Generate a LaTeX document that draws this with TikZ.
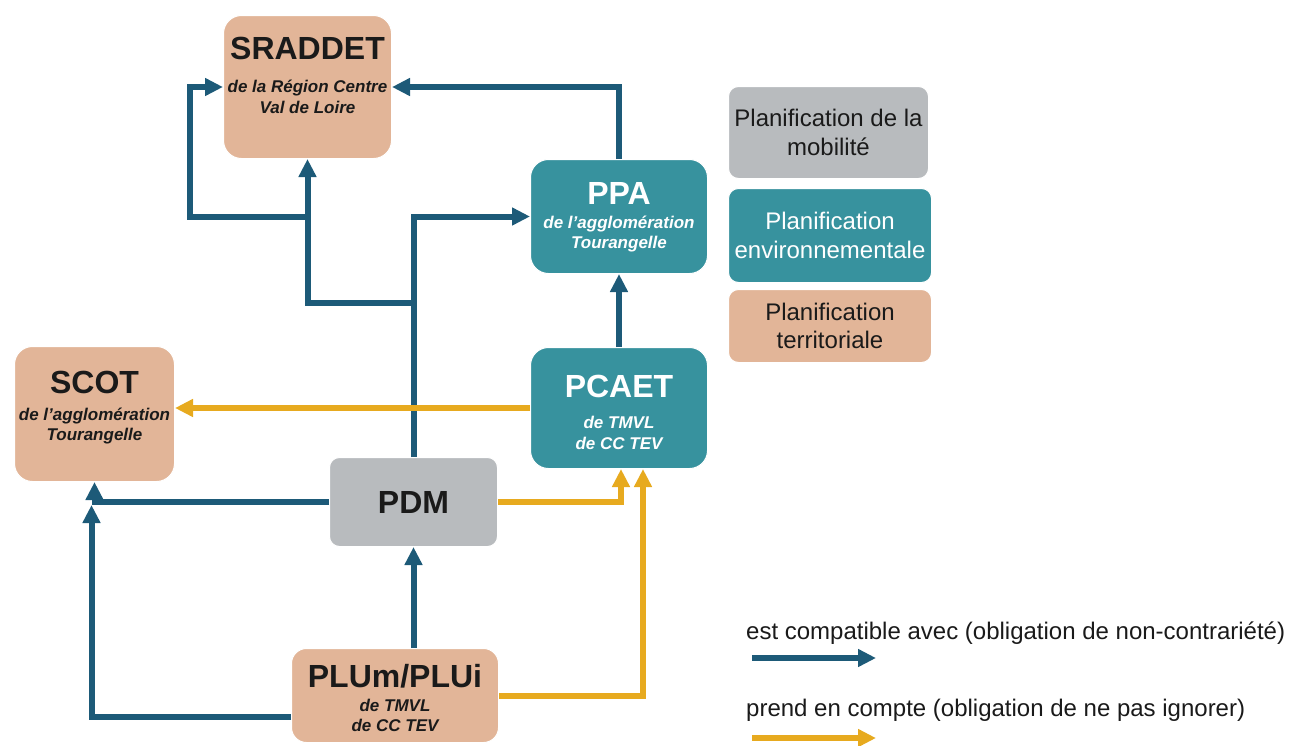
\documentclass[tikz,border=0pt]{standalone}
\usepackage{fontspec}
\setmainfont{Liberation Sans}
\usetikzlibrary{arrows.meta}
\definecolor{terr}{HTML}{E2B598}
\definecolor{envi}{HTML}{37929E}
\definecolor{mobi}{HTML}{B8BBBE}
\definecolor{compat}{HTML}{1D5A78}
\definecolor{prise}{HTML}{E7AA1F}
\definecolor{txt}{HTML}{1A1A1A}
\begin{document}
\begin{tikzpicture}[x=1pt,y=-1pt,
  box/.style={anchor=north west, rounded corners=18pt, draw=white, line width=1pt},
  title/.style={text=txt, font=\fontsize{32}{36}\selectfont\bfseries},
  sub/.style={text=txt, align=center, font=\fontsize{17}{20.5}\selectfont\bfseries\itshape},
  legtext/.style={text=txt, align=center, font=\fontsize{24}{28.5}\selectfont},
  compatline/.style={draw=compat, line width=6pt, -{Triangle[length=18pt,width=17pt]}},
  priseline/.style={draw=prise, line width=6pt, -{Triangle[length=18pt,width=17pt]}}]
\useasboundingbox (0,0) rectangle (1292,745);

\node [box, fill=terr, minimum width=168pt, minimum height=143pt] (sraddet) at (223,15) {};
\node [title] (sraddett) at ([yshift=-33pt]sraddet.north) {SRADDET};
\node [sub] (sraddets) at ([yshift=-82pt]sraddet.north) {de la Région Centre\\Val de Loire};

\node [box, fill=envi, minimum width=177pt, minimum height=114pt] (ppa) at (530,159) {};
\node [title, text=white] (ppat) at ([yshift=-34pt]ppa.north) {PPA};
\node [sub, text=white] (ppas) at ([yshift=-75pt]ppa.north) {de l’agglomération\\Tourangelle};

\node [box, fill=envi, minimum width=177pt, minimum height=121pt] (pcaet) at (530,347) {};
\node [title, text=white] (pcaett) at ([yshift=-39pt]pcaet.north) {PCAET};
\node [sub, text=white] (pcaets) at ([yshift=-86pt]pcaet.north) {de TMVL\\de CC TEV};

\node [box, fill=terr, minimum width=160pt, minimum height=135pt] (scot) at (14,346) {};
\node [title] (scott) at ([yshift=-36pt]scot.north) {SCOT};
\node [sub] (scots) at ([yshift=-80pt]scot.north) {de l’agglomération\\Tourangelle};

\node [box, fill=mobi, rounded corners=10pt, minimum width=168pt, minimum height=89pt, title] (pdm) at (329,457) {PDM};

\node [box, fill=terr, rounded corners=15pt, minimum width=207pt, minimum height=94pt] (plum) at (291,648) {};
\node [title] (plumt) at ([yshift=-28pt]plum.north) {PLUm/PLUi};
\node [sub] (plums) at ([yshift=-67.5pt]plum.north) {de TMVL\\de CC TEV};

% legende des couleurs
\node [box, fill=mobi, rounded corners=10pt, minimum width=200pt, minimum height=92pt, legtext] (mobil) at (728,86) {Planification de la\\mobilité};
\node [box, fill=envi, rounded corners=10pt, minimum width=203pt, minimum height=94pt, legtext, text=white] (envir) at (728,188) {Planification\\environnementale};
\node [box, fill=terr, rounded corners=10pt, minimum width=203pt, minimum height=73pt, legtext] (terri) at (728,289) {Planification\\territoriale};

% compatibilite
\draw [compatline] (ppa.north) |- (sraddet.east);
\draw [compatline] (pdm.north) |- (ppa.west);
\coordinate (pdmknee) at ([yshift=154pt]pdm.north);
\draw [compatline] (pdmknee) -| (sraddet.south);
\coordinate (sraknee) at (sraddet.south |- ppa.west);
\coordinate (sracorner) at ([xshift=-33pt]sraddet.west);
\draw [compatline] (sraknee) -| (sracorner) -- (sraddet.west);
\draw [compatline] (pdm.west) -| (scot.south);
\coordinate (scotmeet) at (scot.south |- pdm.west);
\draw [compatline] ([yshift=-21pt]plum.west) -| ([xshift=-3pt,yshift=-3pt]scotmeet);
\draw [compatline] (pdm.south |- plum.north) -- (pdm.south);
\draw [compatline] (pcaet.north) -- (ppa.south);

% prise en compte
\draw [priseline] (pcaet.west) -- (scot.east |- pcaet.west);
\draw [priseline] (pdm.east) -| ([xshift=2pt]pcaet.south);
\draw [priseline] (plum.east) -| ([xshift=24pt]pcaet.south);

% legende des fleches
\node [legtext, anchor=west, inner sep=0pt] (leg1) at (746,633) {est compatible avec (obligation de non-contrariété)};
\coordinate (leg1a) at ([xshift=6pt,yshift=-25pt]leg1.west);
\coordinate (leg1b) at ([xshift=130pt,yshift=-25pt]leg1.west);
\draw [compatline] (leg1a) -- (leg1b);
\node [legtext, anchor=west, inner sep=0pt] (leg2) at (746,710) {prend en compte (obligation de ne pas ignorer)};
\coordinate (leg2a) at ([xshift=6pt,yshift=-28pt]leg2.west);
\coordinate (leg2b) at ([xshift=130pt,yshift=-28pt]leg2.west);
\draw [priseline] (leg2a) -- (leg2b);
\end{tikzpicture}
\end{document}
